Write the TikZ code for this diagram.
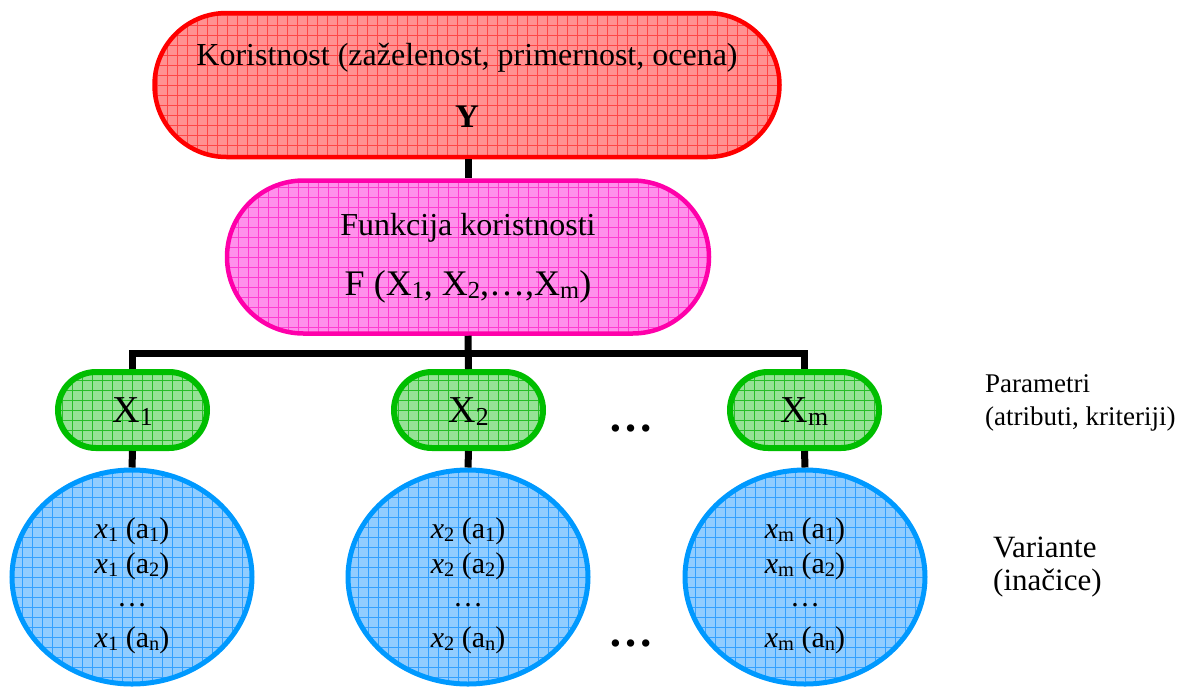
\documentclass[tikz,border=0pt]{standalone}
\usepackage{fontspec}
\usepackage{graphicx}
\setmainfont{Liberation Serif}
\usetikzlibrary{shapes.misc,shapes.geometric}
\newcommand\sbx[1]{\raisebox{-0.1em}{\scalebox{0.68}{#1}}}
\definecolor{redline}{RGB}{255,0,0}
\definecolor{redfill}{RGB}{255,145,145}
\definecolor{redgrid}{RGB}{255,70,70}
\definecolor{magline}{RGB}{255,0,170}
\definecolor{magfill}{RGB}{255,145,235}
\definecolor{maggrid}{RGB}{255,60,210}
\definecolor{greenline}{RGB}{0,190,0}
\definecolor{greenfill}{RGB}{150,226,150}
\definecolor{greengrid}{RGB}{40,190,40}
\definecolor{blueline}{RGB}{0,153,255}
\definecolor{bluefill}{RGB}{145,205,255}
\definecolor{bluegrid}{RGB}{50,160,255}
\tikzset{
  gridfill/.style={path picture={\draw[#1,line width=0.6pt]
     ([shift={(-20pt,-20pt)}]path picture bounding box.south west)
     grid[step=10pt]
     ([shift={(20pt,20pt)}]path picture bounding box.north east);}},
  pill/.style={rounded rectangle, inner sep=0pt},
  oval/.style={ellipse, inner sep=0pt, draw=blueline, fill=bluefill, gridfill=bluegrid,
     line width=5pt, minimum width=240pt, minimum height=214pt},
  gbox/.style={pill, draw=greenline, fill=greenfill, gridfill=greengrid,
     line width=6pt, minimum width=149pt, minimum height=76pt},
  conn/.style={line width=7pt, draw=black},
  txt/.style={anchor=base, inner sep=0pt},
}
\begin{document}
\begin{tikzpicture}[x=1pt,y=-1pt]
\useasboundingbox (0,0) rectangle (1191,686);
% top box
\node[pill, draw=redline, fill=redfill, gridfill=redgrid, line width=4.5pt,
      minimum width=625pt, minimum height=144pt] (util) at (467,85) {};
% function box
\node[pill, draw=magline, fill=magfill, gridfill=maggrid, line width=4.5pt,
      minimum width=482pt, minimum height=153pt] (func) at (468,257) {};
% parameter boxes
\node[gbox] (p1) at (132.5,410) {};
\node[gbox] (p2) at (468.5,410) {};
\node[gbox] (pm) at (804.5,410) {};
% variant ovals
\node[oval] (v1) at (132,577) {};
\node[oval] (v2) at (468,577) {};
\node[oval] (vm) at (805,577) {};
% connectors
\coordinate (bus) at (468,353);
\draw[conn] (util.south -| func.north) -- (func.north);
\draw[conn] (func.south) -- (p2.north);
\draw[conn] (p1.north) |- (bus) -| (pm.north);
\draw[conn] (p1.south) -- (v1.north);
\draw[conn] (p2.south) -- (v2.north);
\draw[conn] (pm.south) -- (vm.north);
% texts
\node[txt, font=\fontsize{32}{38}\selectfont] (t1) at (467,65) {Koristnost (zaželenost, primernost, ocena)};
\node[txt, font=\fontsize{33}{38}\selectfont\bfseries] (ty) at (467,127) {Y};
\node[txt, font=\fontsize{32}{38}\selectfont] (f1) at (468,235) {Funkcija koristnosti};
\node[txt, font=\fontsize{36}{40}\selectfont] (f2) at (468,295) {F (X\sbx{1}, X\sbx{2},…,X\sbx{m})};
\node[txt, font=\fontsize{38}{42}\selectfont] (x1) at (132.5,422) {X\sbx{1}};
\node[txt, font=\fontsize{38}{42}\selectfont] (x2) at (468.5,422) {X\sbx{2}};
\node[txt, font=\fontsize{38}{42}\selectfont] (xm) at (804.5,422) {X\sbx{m}};
\foreach \nm/\cx/\s in {a/132/1, b/468/2, c/805/m}{
  \node[txt, font=\fontsize{30}{34}\selectfont] (\nm1) at (\cx,538) {\textit{x}\sbx{\s} (a\sbx{1})};
  \node[txt, font=\fontsize{30}{34}\selectfont] (\nm2) at (\cx,573) {\textit{x}\sbx{\s} (a\sbx{2})};
  \node[txt, font=\fontsize{30}{34}\selectfont] (\nm3) at (\cx,606) {…};
  \node[txt, font=\fontsize{30}{34}\selectfont] (\nm4) at (\cx,647) {\textit{x}\sbx{\s} (a\sbx{n})};
}
\node[txt, font=\fontsize{45}{50}\selectfont\bfseries] (dots1) at (631,431) {…};
\node[txt, font=\fontsize{45}{50}\selectfont\bfseries] (dots2) at (631,646) {…};
\node[txt, anchor=base west, font=\fontsize{27}{32}\selectfont] (lp1) at (985,392) {Parametri};
\node[txt, anchor=base west, font=\fontsize{27}{32}\selectfont] (lp2) at (985,425) {(atributi, kriteriji)};
\node[txt, anchor=base west, font=\fontsize{31}{36}\selectfont] (lv1) at (993,557) {Variante};
\node[txt, anchor=base west, font=\fontsize{31}{36}\selectfont] (lv2) at (993,590) {(inačice)};
\end{tikzpicture}
\end{document}
